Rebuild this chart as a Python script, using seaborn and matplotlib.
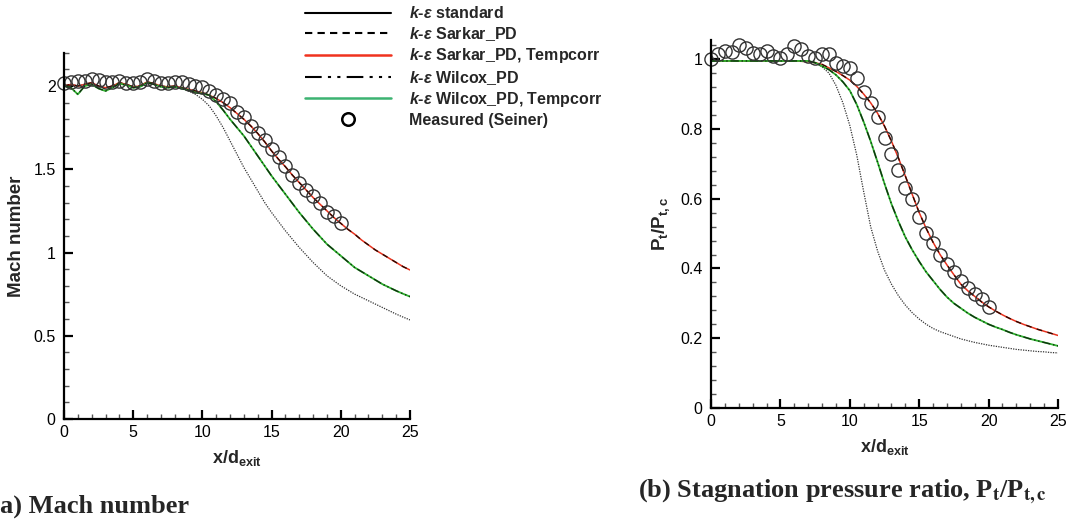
import matplotlib
matplotlib.use('Agg')
import matplotlib.pyplot as plt
from matplotlib.lines import Line2D
from matplotlib.ticker import MultipleLocator, FuncFormatter
import seaborn as sns

# model grid, x/d_exit
x_model = [0, 0.5, 1, 1.5, 2, 2.5, 3, 3.5, 4, 4.5, 5, 5.5, 6, 6.5, 7, 7.5, 8, 8.5, 9, 9.5,
           10, 10.5, 11, 11.5, 12, 12.5, 13, 13.5, 14, 14.5, 15, 15.5, 16, 16.5, 17, 17.5,
           18, 18.5, 19, 19.5, 20, 20.5, 21, 21.5, 22, 22.5, 23, 23.5, 24, 24.5, 25]

# measured points (Seiner)
x_meas = [0, 0.5, 1, 1.5, 2, 2.5, 3, 3.5, 4, 4.5, 5, 5.5, 6, 6.5, 7, 7.5, 8, 8.5, 9, 9.5,
          10, 10.5, 11, 11.5, 12, 12.5, 13, 13.5, 14, 14.5, 15, 15.5, 16, 16.5, 17, 17.5,
          18, 18.5, 19, 19.5, 20]

# (a) Mach number
mach_standard = [2.00, 2.01, 2.00, 2.01, 2.02, 2.00, 1.99, 2.00, 2.02, 2.01, 1.995, 2.00, 2.025,
                 2.015, 2.00, 1.995, 2.00, 1.985, 1.97, 1.95, 1.92, 1.88, 1.82, 1.75, 1.67, 1.59,
                 1.51, 1.44, 1.37, 1.30, 1.24, 1.185, 1.13, 1.08, 1.03, 0.985, 0.94, 0.90, 0.86,
                 0.83, 0.80, 0.775, 0.75, 0.73, 0.71, 0.69, 0.67, 0.65, 0.63, 0.612, 0.595]
mach_sarkar_tc = [2.00, 2.01, 2.00, 2.01, 2.02, 2.00, 1.99, 2.00, 2.02, 2.01, 1.995, 2.00, 2.025,
                  2.015, 2.00, 1.995, 2.00, 1.99, 1.98, 1.97, 1.96, 1.945, 1.925, 1.90, 1.87,
                  1.835, 1.80, 1.76, 1.715, 1.665, 1.61, 1.56, 1.515, 1.465, 1.42, 1.375, 1.33,
                  1.29, 1.25, 1.21, 1.175, 1.14, 1.11, 1.075, 1.045, 1.015, 0.99, 0.965, 0.94,
                  0.915, 0.895]
mach_sarkar = mach_sarkar_tc  # lies on top of the Tempcorr curve
mach_wilcox_tc = [2.00, 1.99, 1.95, 2.00, 2.01, 1.985, 1.97, 1.99, 2.015, 2.005, 1.99, 1.995, 2.02,
                  2.01, 1.995, 1.99, 1.995, 1.985, 1.975, 1.96, 1.955, 1.945, 1.905, 1.855, 1.80,
                  1.75, 1.70, 1.64, 1.58, 1.52, 1.46, 1.405, 1.35, 1.295, 1.24, 1.19, 1.14, 1.095,
                  1.05, 1.015, 0.98, 0.945, 0.91, 0.885, 0.86, 0.835, 0.81, 0.79, 0.77, 0.752, 0.735]
mach_wilcox = mach_wilcox_tc
mach_meas = [2.016, 2.026, 2.030, 2.032, 2.042, 2.036, 2.024, 2.022, 2.030, 2.016, 2.016, 2.024,
             2.042, 2.032, 2.016, 2.020, 2.026, 2.024, 2.012, 2.000, 1.996, 1.972, 1.946, 1.920,
             1.896, 1.846, 1.816, 1.760, 1.716, 1.676, 1.620, 1.572, 1.520, 1.466, 1.420, 1.375,
             1.340, 1.295, 1.245, 1.219, 1.175]

# (b) Stagnation pressure ratio
pt_standard = [0.995, 0.995, 0.995, 0.995, 0.995, 0.995, 0.995, 0.995, 0.995, 0.995, 0.995, 0.995,
               0.995, 0.995, 0.995, 0.99, 0.978, 0.96, 0.925, 0.875, 0.81, 0.725, 0.62, 0.52, 0.45,
               0.395, 0.355, 0.322, 0.295, 0.273, 0.255, 0.24, 0.228, 0.219, 0.212, 0.205, 0.198,
               0.193, 0.188, 0.184, 0.18, 0.177, 0.174, 0.171, 0.168, 0.166, 0.164, 0.162, 0.161,
               0.159, 0.158]
pt_sarkar_tc = [0.995, 0.995, 0.995, 0.995, 0.995, 0.995, 0.995, 0.995, 0.995, 0.995, 0.995, 0.995,
                0.995, 0.994, 0.993, 0.99, 0.985, 0.975, 0.965, 0.953, 0.94, 0.922, 0.90, 0.875,
                0.845, 0.808, 0.765, 0.717, 0.665, 0.612, 0.56, 0.515, 0.475, 0.44, 0.41, 0.382,
                0.355, 0.336, 0.32, 0.304, 0.29, 0.278, 0.267, 0.257, 0.248, 0.24, 0.233, 0.226,
                0.22, 0.214, 0.208]
pt_sarkar = pt_sarkar_tc
pt_wilcox_tc = [0.995, 0.995, 0.995, 0.995, 0.995, 0.995, 0.995, 0.995, 0.995, 0.995, 0.995, 0.995,
                0.995, 0.995, 0.995, 0.99, 0.98, 0.97, 0.955, 0.935, 0.91, 0.87, 0.82, 0.765, 0.705,
                0.643, 0.585, 0.535, 0.49, 0.453, 0.42, 0.39, 0.365, 0.34, 0.318, 0.30, 0.286,
                0.272, 0.26, 0.25, 0.24, 0.232, 0.225, 0.217, 0.21, 0.204, 0.198, 0.193, 0.188,
                0.183, 0.178]
pt_wilcox = pt_wilcox_tc
pt_meas = [1.000, 1.014, 1.024, 1.021, 1.040, 1.033, 1.019, 1.016, 1.023, 1.009, 1.002, 1.016,
           1.037, 1.029, 1.010, 1.002, 1.016, 1.016, 0.988, 0.981, 0.976, 0.945, 0.905, 0.873,
           0.833, 0.774, 0.729, 0.681, 0.630, 0.598, 0.547, 0.503, 0.474, 0.438, 0.413, 0.389,
           0.365, 0.343, 0.326, 0.312, 0.290]

legend_labels = [r'$\mathbfit{k}$-$\mathbfit{\varepsilon}$ standard',
                 r'$\mathbfit{k}$-$\mathbfit{\varepsilon}$ Sarkar_PD',
                 r'$\mathbfit{k}$-$\mathbfit{\varepsilon}$ Sarkar_PD, Tempcorr',
                 r'$\mathbfit{k}$-$\mathbfit{\varepsilon}$ Wilcox_PD',
                 r'$\mathbfit{k}$-$\mathbfit{\varepsilon}$ Wilcox_PD, Tempcorr',
                 'Measured (Seiner)']

RED = '#e8321e'
GREEN = '#2fb52f'

sns.set_style('ticks')
plt.rcParams['font.family'] = ['Liberation Sans', 'DejaVu Sans']
plt.rcParams['mathtext.fontset'] = 'custom'
plt.rcParams['mathtext.rm'] = 'Liberation Sans'
plt.rcParams['mathtext.it'] = 'Liberation Sans:italic'
plt.rcParams['mathtext.bf'] = 'Liberation Sans:bold'
plt.rcParams['mathtext.bfit'] = 'Liberation Sans:italic:bold'
# tecplot-like inward ticks
plt.rcParams['xtick.direction'] = 'in'
plt.rcParams['ytick.direction'] = 'in'
plt.rcParams['xtick.labelsize'] = 11.5
plt.rcParams['ytick.labelsize'] = 11.5
plt.rcParams['xtick.major.pad'] = 4
plt.rcParams['ytick.major.pad'] = 6
plt.rcParams['xtick.major.size'] = 6.5
plt.rcParams['ytick.major.size'] = 6.5
plt.rcParams['xtick.major.width'] = 1.6
plt.rcParams['ytick.major.width'] = 1.6
plt.rcParams['xtick.color'] = 'black'
plt.rcParams['ytick.color'] = 'black'


def style_axis(ax, ymajor, yminor):
    ax.set_xlim(0, 25)
    ax.xaxis.set_major_locator(MultipleLocator(5))
    ax.xaxis.set_minor_locator(MultipleLocator(1))
    ax.yaxis.set_major_locator(MultipleLocator(ymajor))
    ax.yaxis.set_minor_locator(MultipleLocator(yminor))
    ax.xaxis.set_major_formatter(FuncFormatter(lambda v, p: '%g' % v))
    ax.yaxis.set_major_formatter(FuncFormatter(lambda v, p: '%g' % round(v, 3)))
    ax.tick_params(which='both', bottom=True, left=True)
    ax.tick_params(which='major', direction='in', length=6.5, width=1.6, colors='black')
    ax.tick_params(which='minor', direction='in', length=3.5, width=1.0, colors='#555555')
    for s in ['top', 'right']:
        ax.spines[s].set_visible(False)
    for s in ['left', 'bottom']:
        ax.spines[s].set_linewidth(1.6)
        ax.spines[s].set_color('black')
    ax.set_xlabel(r'x/d$_\mathbf{exit}$', fontsize=13, fontweight='bold')


def draw_panel(ax, standard, sarkar, sarkar_tc, wilcox, wilcox_tc, meas):
    sns.lineplot(x=x_model, y=standard, ax=ax, color='#333333', lw=0.9, linestyle=(0, (1, 1)))
    sns.lineplot(x=x_model, y=sarkar_tc, ax=ax, color=RED, lw=1.1)
    sns.lineplot(x=x_model, y=sarkar, ax=ax, color='#2a0800', lw=1.0, linestyle=(0, (4, 4)))
    sns.lineplot(x=x_model, y=wilcox_tc, ax=ax, color=GREEN, lw=1.3)
    sns.lineplot(x=x_model, y=wilcox, ax=ax, color='#103010', lw=1.0,
                 linestyle=(0, (6, 2, 1, 2, 1, 2)))
    sns.lineplot(x=x_meas, y=meas, ax=ax, marker='o', linestyle='', markersize=9.5,
                 markerfacecolor='none', markeredgecolor='#333333', markeredgewidth=1.0,
                 clip_on=False)


fig = plt.figure(figsize=(10.7, 5.21), dpi=100)
ax1 = fig.add_axes([0.0598, 0.1958, 0.3234, 0.703])
ax2 = fig.add_axes([0.6645, 0.2169, 0.3243, 0.7063])

draw_panel(ax1, mach_standard, mach_sarkar, mach_sarkar_tc, mach_wilcox, mach_wilcox_tc, mach_meas)
ax1.set_ylim(0, 2.2)
style_axis(ax1, 0.5, 0.1)
ax1.set_ylabel('Mach number', fontsize=13.5, fontweight='bold')
ax1.yaxis.set_label_coords(-0.113, 0.5)
ax1.xaxis.set_label_coords(0.5, -0.079)

draw_panel(ax2, pt_standard, pt_sarkar, pt_sarkar_tc, pt_wilcox, pt_wilcox_tc, pt_meas)
ax2.set_ylim(0, 1.055)
style_axis(ax2, 0.2, 0.04)
ax2.set_ylabel(r'P$_\mathbf{t}$/P$_\mathbf{t,c}$', fontsize=13.5, fontweight='bold')
ax2.yaxis.set_label_coords(-0.112, 0.5)
ax2.xaxis.set_label_coords(0.5, -0.079)

handles = [Line2D([], [], color='black', lw=1.5),
           Line2D([], [], color='black', lw=1.5, linestyle=(0, (3.5, 2.5))),
           Line2D([], [], color='#f0321e', lw=1.8),
           Line2D([], [], color='black', lw=1.5, linestyle=(0, (8, 3, 1.5, 3, 1.5, 3))),
           Line2D([], [], color='#3cb371', lw=1.8),
           Line2D([], [], color='black', marker='o', linestyle='', markersize=9,
                  markerfacecolor='none', markeredgewidth=1.8)]
fig.legend(handles, legend_labels, loc='upper left', bbox_to_anchor=(0.285, 0.99),
           frameon=False, borderaxespad=0, borderpad=0, handlelength=5.4,
           handletextpad=1.1, labelspacing=0.22, prop={'weight': 'bold', 'size': 11.5})

fig.text(0.0, 1 - 513 / 521, 'a) Mach number', family='Liberation Serif', fontweight='bold',
         fontsize=19, va='baseline', ha='left')
fig.text(638 / 1070, 1 - 497 / 521,
         r'(b) Stagnation pressure ratio, P$_\mathbf{t}$/P$_\mathbf{t,c}$',
         family='Liberation Serif', fontweight='bold', fontsize=19, va='baseline', ha='left',
         math_fontfamily='stix')

fig.savefig('out.png', dpi=100)
